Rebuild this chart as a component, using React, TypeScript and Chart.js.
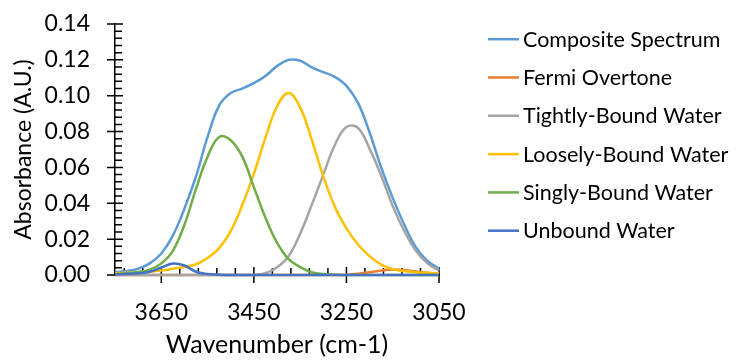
import React, { useEffect, useRef } from 'react';
import { Chart, registerables } from 'chart.js';

Chart.register(...registerables);

const wavenumbers = [3750, 3725, 3700, 3675, 3650, 3625, 3600, 3575, 3550, 3525, 3500, 3475, 3450, 3425, 3400, 3375, 3350, 3325, 3300, 3275, 3250, 3225, 3200, 3175, 3150, 3125, 3100, 3075, 3050];

const composite = [0.0017, 0.0022, 0.0035, 0.0065, 0.012, 0.022, 0.037, 0.055, 0.077, 0.0945, 0.1015, 0.104, 0.107, 0.111, 0.1165, 0.12, 0.1195, 0.1158, 0.1132, 0.1105, 0.1055, 0.096, 0.0795, 0.06, 0.043, 0.028, 0.0155, 0.0078, 0.0037];
const fermi = [0, 0, 0, 0, 0, 0, 0, 0, 0, 0, 0, 0, 0, 0, 0, 0, 0, 0, 0, 0, 0.0002, 0.0007, 0.0015, 0.0025, 0.003, 0.0027, 0.002, 0.0013, 0.0008];
const tightly = [0, 0, 0, 0, 0, 0, 0, 0, 0, 0, 0, 0, 0, 0.001, 0.0043, 0.0105, 0.023, 0.039, 0.056, 0.0725, 0.0825, 0.082, 0.0705, 0.0555, 0.0385, 0.0245, 0.0135, 0.0065, 0.0025];
const loosely = [0.001, 0.0012, 0.0015, 0.002, 0.0025, 0.0035, 0.0045, 0.006, 0.0095, 0.015, 0.0245, 0.039, 0.0565, 0.0765, 0.094, 0.1015, 0.0935, 0.0755, 0.055, 0.038, 0.026, 0.017, 0.0105, 0.0058, 0.0033, 0.0022, 0.0015, 0.0011, 0.0009];
const singly = [0.0005, 0.001, 0.0017, 0.003, 0.0065, 0.0135, 0.028, 0.048, 0.066, 0.077, 0.0752, 0.066, 0.049, 0.032, 0.018, 0.0088, 0.0045, 0.0015, 0.0005, 0.0002, 0, 0, 0, 0, 0, 0, 0, 0, 0];
const unbound = [0.0003, 0.0006, 0.001, 0.0018, 0.0042, 0.0064, 0.0053, 0.0018, 0.0006, 0.0002, 0, 0, 0, 0, 0, 0, 0, 0, 0, 0, 0, 0, 0, 0, 0, 0, 0, 0, 0];

const seriesNames = ['Composite Spectrum', 'Fermi Overtone', 'Tightly-Bound Water', 'Loosely-Bound Water', 'Singly-Bound Water', 'Unbound Water'];
const seriesValues = [composite, fermi, tightly, loosely, singly, unbound];
const seriesColors = ['#5B9BD5', '#ED7D31', '#A5A5A5', '#FFC000', '#70AD47', '#4472C4'];

const xMajorTicks = [3050, 3250, 3450, 3650];
const yTicks = [0, 0.02, 0.04, 0.06, 0.08, 0.1, 0.12, 0.14];

const FONT = 'Lato';

const axisTicksPlugin = {
  id: 'axisTicks',
  beforeDatasetsDraw(chart: any) {
    const { ctx, chartArea, scales } = chart;
    const xs = scales.x;
    const ys = scales.y;
    ctx.save();
    ctx.strokeStyle = '#000';
    ctx.lineWidth = 1.5;
    const b = chartArea.bottom;
    const l = chartArea.left;
    ctx.beginPath();
    for (const v of xMajorTicks) {
      const px = xs.getPixelForValue(v);
      ctx.moveTo(px, b - 8);
      ctx.lineTo(px, b + 8);
    }
    for (let v = 3050 + 40; v < 3750; v += 40) {
      if ((v - 3050) % 200 === 0) continue;
      const px = xs.getPixelForValue(v);
      ctx.moveTo(px, b - 7);
      ctx.lineTo(px, b);
    }
    for (const v of yTicks) {
      const py = ys.getPixelForValue(v);
      ctx.moveTo(l - 8, py);
      ctx.lineTo(l + 8, py);
    }
    for (let k = 1; k < 35; k++) {
      if (k % 5 === 0) continue;
      const py = ys.getPixelForValue(k * 0.004);
      ctx.moveTo(l, py);
      ctx.lineTo(l + 7, py);
    }
    ctx.stroke();
    ctx.restore();
  },
};

const legendPlugin = {
  id: 'customLegend',
  afterDraw(chart: any) {
    const { ctx } = chart;
    ctx.save();
    ctx.font = `21.5px ${FONT}`;
    ctx.textBaseline = 'alphabetic';
    ctx.textAlign = 'left';
    chart.data.datasets.forEach((ds: any, i: number) => {
      const base = 46.7 + i * 38.3;
      const ly = base - 7.5;
      ctx.strokeStyle = ds.borderColor;
      ctx.lineWidth = 2.5;
      ctx.beginPath();
      ctx.moveTo(488, ly);
      ctx.lineTo(519, ly);
      ctx.stroke();
      ctx.fillStyle = '#000';
      ctx.fillText(ds.label, 523, base);
    });
    ctx.restore();
  },
};

export default function App() {
  const canvasRef = useRef<HTMLCanvasElement | null>(null);

  useEffect(() => {
    const canvas = canvasRef.current;
    if (!canvas) return;
    const datasets = seriesNames.map((name, i) => ({
      label: name,
      data: wavenumbers.map((w, j) => ({ x: w, y: seriesValues[i][j] })),
      borderColor: seriesColors[i],
      backgroundColor: seriesColors[i],
      borderWidth: 2.5,
      pointRadius: 0,
      tension: 0.4,
      fill: false,
      clip: false as any,
      order: seriesNames.length - i,
    }));

    const chart = new Chart(canvas, {
      type: 'line',
      data: { datasets },
      options: {
        animation: false,
        responsive: false,
        devicePixelRatio: 1,
        layout: { padding: { left: 0, right: 300, top: 24, bottom: 0 } },
        plugins: {
          legend: { display: false },
          tooltip: { enabled: false },
        },
        scales: {
          x: {
            type: 'linear',
            reverse: true,
            min: 3050,
            max: 3750,
            afterBuildTicks: (s: any) => {
              s.ticks = xMajorTicks.map((v) => ({ value: v }));
            },
            afterFit: (s: any) => {
              s.height = 85;
              s.paddingLeft = 0;
              s.paddingRight = 0;
            },
            ticks: {
              autoSkip: false,
              maxRotation: 0,
              padding: 24,
              color: '#000',
              font: { family: FONT, size: 23 },
              callback: (v: any) => String(v),
            },
            grid: { display: false, drawTicks: false },
            border: { display: true, color: '#000', width: 1.5 },
            title: {
              display: true,
              text: 'Wavenumber (cm-1)',
              color: '#000',
              font: { family: FONT, size: 25 },
              padding: { top: 0, bottom: 0 },
            },
          },
          y: {
            type: 'linear',
            min: 0,
            max: 0.14,
            afterBuildTicks: (s: any) => {
              s.ticks = yTicks.map((v) => ({ value: v }));
            },
            afterFit: (s: any) => {
              s.width = 115;
              s.paddingTop = 0;
              s.paddingBottom = 0;
            },
            ticks: {
              padding: 25,
              color: '#000',
              font: { family: FONT, size: 23 },
              callback: (v: any) => Number(v).toFixed(2),
            },
            grid: { display: false, drawTicks: false },
            border: { display: true, color: '#000', width: 1.5 },
            title: {
              display: true,
              text: 'Absorbance (A.U.)',
              color: '#000',
              font: { family: FONT, size: 23 },
              padding: { top: 10, bottom: 0 },
            },
          },
        },
      },
      plugins: [axisTicksPlugin, legendPlugin],
    });
    return () => chart.destroy();
  }, []);

  return (
    <div style={{ position: 'fixed', left: 0, top: 0, width: 739, height: 360, background: '#fff' }}>
      <canvas ref={canvasRef} width={739} height={360} />
    </div>
  );
}
